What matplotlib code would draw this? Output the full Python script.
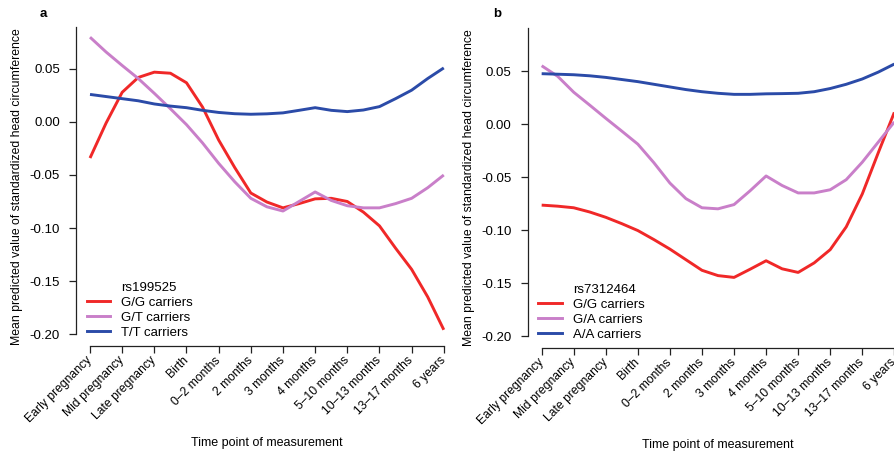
import numpy as np
import matplotlib
matplotlib.use("Agg")
import matplotlib.pyplot as plt
from matplotlib.lines import Line2D

plt.rcParams["font.family"] = ["Liberation Sans", "DejaVu Sans"]

# Time points (tick labels) and sampling positions along the smoothed curves
time_points = ["Early pregnancy", "Mid pregnancy", "Late pregnancy", "Birth",
               "0\u20132 months", "2 months", "3 months", "4 months",
               "5\u201310 months", "10\u201313 months", "13\u201317 months", "6 years"]
pos = np.arange(0, 11.5, 0.5)

# Panel a: rs199525
snp_a = "rs199525"
labels_a = ["G/G carriers", "G/T carriers", "T/T carriers"]
gg_a = [-0.034, -0.001, 0.028, 0.042, 0.047, 0.046, 0.037, 0.014, -0.017, -0.043,
        -0.067, -0.0755, -0.081, -0.077, -0.0725, -0.072, -0.075, -0.085, -0.098,
        -0.119, -0.139, -0.165, -0.196]
gt_a = [0.080, 0.066, 0.0533, 0.041, 0.027, 0.0125, -0.0025, -0.0198, -0.039, -0.0564,
        -0.072, -0.080, -0.084, -0.075, -0.066, -0.074, -0.079, -0.081, -0.081,
        -0.077, -0.072, -0.062, -0.050]
tt_a = [0.026, 0.024, 0.022, 0.020, 0.017, 0.015, 0.0135, 0.011, 0.009, 0.0078,
        0.0073, 0.0077, 0.0086, 0.011, 0.0135, 0.011, 0.0098, 0.0113, 0.0145, 0.022,
        0.030, 0.041, 0.051]

# Panel b: rs7312464
snp_b = "rs7312464"
labels_b = ["G/G carriers", "G/A carriers", "A/A carriers"]
gg_b = [-0.0765, -0.0775, -0.079, -0.083, -0.088, -0.094, -0.1005, -0.109, -0.118,
        -0.128, -0.138, -0.143, -0.1447, -0.137, -0.129, -0.1366, -0.140, -0.131,
        -0.1185, -0.097, -0.066, -0.027, 0.011]
ga_b = [0.055, 0.045, 0.030, 0.0178, 0.0054, -0.0067, -0.019, -0.0365, -0.0557,
        -0.0704, -0.079, -0.080, -0.076, -0.063, -0.049, -0.058, -0.065, -0.065,
        -0.062, -0.0525, -0.036, -0.017, 0.002]
aa_b = [0.0475, 0.047, 0.0465, 0.0455, 0.044, 0.042, 0.040, 0.0375, 0.035, 0.0325,
        0.0305, 0.029, 0.028, 0.028, 0.0285, 0.0287, 0.029, 0.0305, 0.0335, 0.0375,
        0.0425, 0.049, 0.0566]

yticks = [-0.20, -0.15, -0.10, -0.05, 0.00, 0.05]
colors = ["#f02828", "#c97fc9", "#2b4ba8"]

W, H = 895, 453
fig = plt.figure(figsize=(W / 100, H / 100), dpi=100)


def axes_px(left, top, right, bottom):
    return fig.add_axes([left / W, 1 - bottom / H, (right - left) / W, (bottom - top) / H])


def draw_panel(ax, series, names, title, ytop, letter, letter_xy):
    ax.set_xlim(-0.42, 11.42)
    ax.set_ylim(-0.2113, ytop)
    for vals, c in zip(series, colors):
        ax.plot(pos, vals, color=c, lw=2.1, solid_joinstyle="round",
                solid_capstyle="butt", zorder=3)
    for s in ("top", "right"):
        ax.spines[s].set_visible(False)
    for s in ("left", "bottom"):
        ax.spines[s].set_linewidth(0.9)
        ax.spines[s].set_color("#222222")
    ax.spines["left"].set_bounds(-0.20, ytop)
    ax.spines["bottom"].set_bounds(0, 11)
    ax.set_yticks(yticks)
    ax.set_yticklabels([f"{v:.2f}" for v in yticks])
    ax.set_xticks(range(len(time_points)))
    ax.set_xticklabels(time_points, rotation=45, ha="right", va="center",
                       rotation_mode="anchor")
    ax.tick_params(axis="both", length=5, width=0.9, color="#222222",
                   labelcolor="black")
    ax.tick_params(axis="x", pad=4, labelsize=8.7)
    ax.tick_params(axis="y", pad=7, labelsize=9.5)
    ax.set_xlabel("Time point of measurement", fontsize=9.0, va="center", color="black")
    ax.xaxis.set_label_coords(0.5, -97 / 319)
    ax.set_ylabel("Mean predicted value of standardized head circumference",
                  fontsize=8.85, va="center", color="black")
    ax.yaxis.set_label_coords(-59.5 / 380.7, 0.5)

    handles = [Line2D([], [], color="none")] + [
        Line2D([], [], color=c, lw=2.1) for c in colors]
    ax.legend(handles, [title] + names, loc="lower left",
              bbox_to_anchor=(0.027, 0.022), frameon=False, fontsize=9.5,
              handlelength=1.77, handletextpad=0.83, labelspacing=0.22,
              borderpad=0, borderaxespad=0, labelcolor="black")
    fig.text(letter_xy[0] / W, 1 - letter_xy[1] / H, letter, fontsize=9.5,
             fontweight="bold", ha="center", va="center")


ax_a = axes_px(76.5, 27, 457.3, 346)
draw_panel(ax_a, [gg_a, gt_a, tt_a], labels_a, snp_a, 0.0896, "a", (43, 14))

ax_b = axes_px(528.2, 28, 907.8, 348)
draw_panel(ax_b, [gg_b, ga_b, aa_b], labels_b, snp_b, 0.0906, "b", (497, 14))

fig.savefig("out.png", dpi=100)
